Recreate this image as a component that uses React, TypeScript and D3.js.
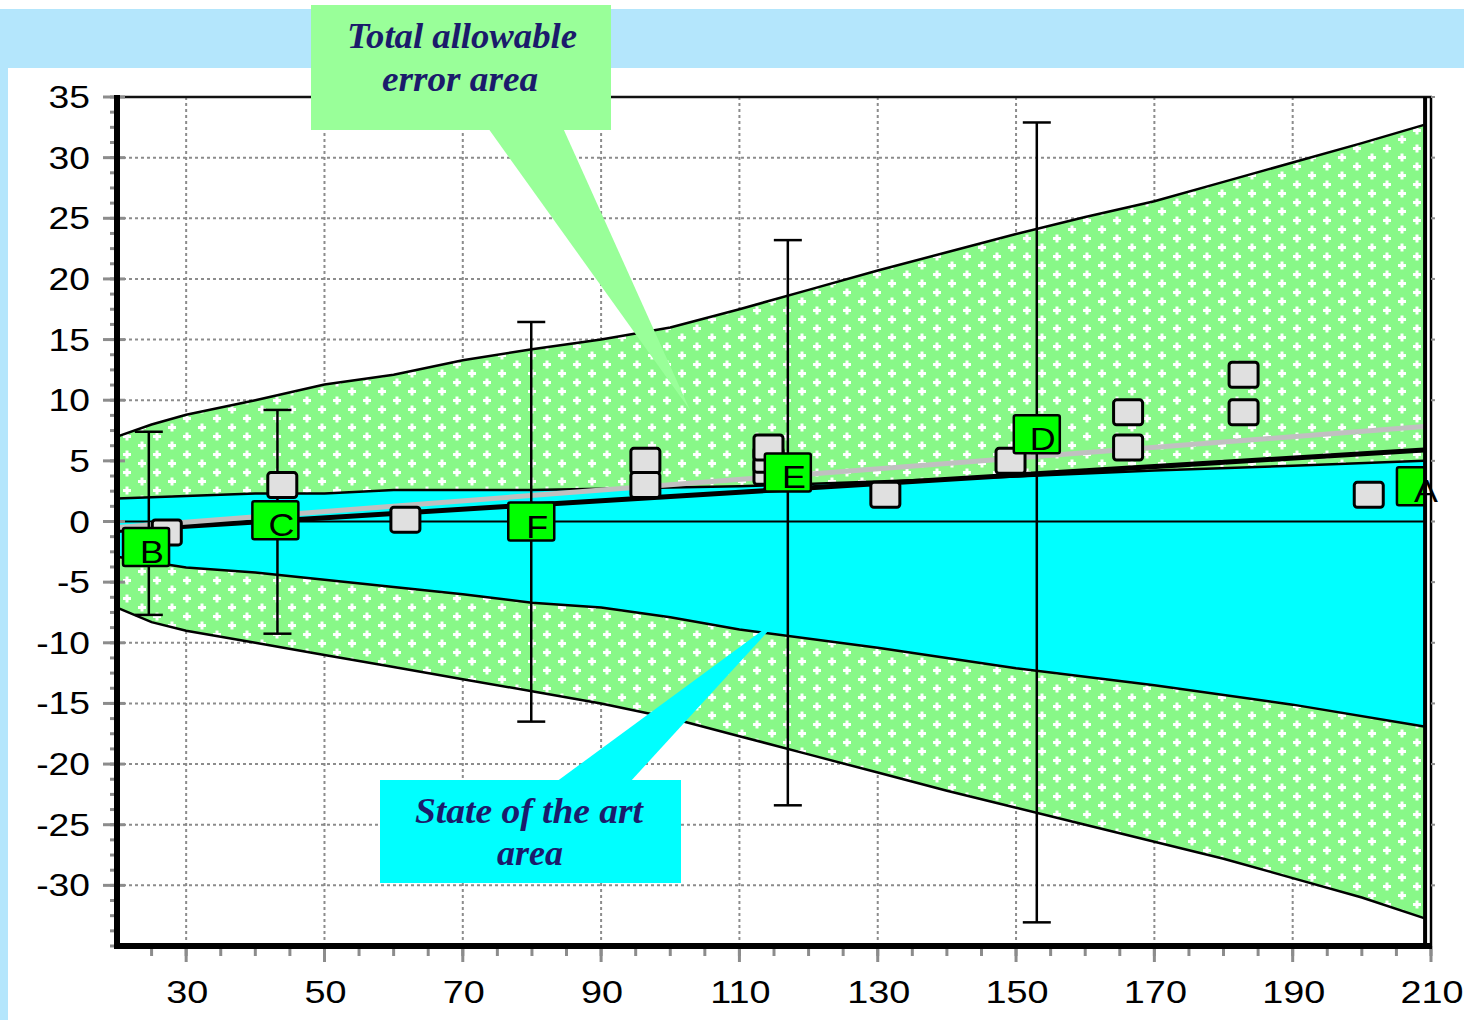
import React from 'react';
import * as d3 from 'd3';

// ---- data -------------------------------------------------------------
// Total allowable error band (upper / lower limits)
const teaX = [20, 25, 30, 40, 50, 60, 70, 80, 90, 100, 110, 120, 130, 140, 150, 160, 170, 180, 190, 200, 209];
const teaUpper = [7.0, 8.0, 8.8, 10.0, 11.3, 12.1, 13.3, 14.2, 15.0, 16.0, 17.5, 19.1, 20.7, 22.2, 23.7, 25.1, 26.4, 28.0, 29.6, 31.2, 32.7];
const teaLower = [-7.1, -8.3, -9.0, -10.0, -11.0, -12.0, -13.0, -14.0, -15.0, -16.2, -17.7, -19.2, -20.7, -22.2, -23.6, -25.0, -26.4, -27.8, -29.4, -31.0, -32.7];

// State of the art band
const sotaX = [20, 30, 40, 50, 60, 70, 80, 90, 100, 110, 130, 150, 170, 190, 209];
const sotaUpper = [1.9, 2.1, 2.3, 2.3, 2.6, 2.6, 2.6, 2.7, 2.8, 2.9, 3.3, 3.7, 4.2, 4.6, 5.0];
const sotaLower = [-2.9, -3.8, -4.2, -4.8, -5.4, -6.0, -6.7, -7.1, -7.9, -8.9, -10.4, -12.1, -13.5, -15.1, -16.9];

// Regression lines
const fitX = [20, 209];
const fitBlack = [-0.75, 5.9];
const fitGray = [-0.5, 7.83];

// Individual results
const pointX = [27.2, 43.9, 61.7, 96.4, 96.4, 114.2, 114.2, 114.2, 131.1, 149.2, 166.2, 166.2, 182.9, 182.9, 201.0];
const pointY = [-0.9, 3.0, 0.15, 5.0, 3.0, 4.1, 5.1, 6.1, 2.2, 5.0, 9.0, 6.1, 12.1, 9.0, 2.2];

// Labelled groups
const groupNames = ['B', 'C', 'F', 'E', 'D', 'A'];
const groupX = [24.2, 42.9, 79.9, 117.0, 153.0, 208.4];
const groupY = [-2.1, 0.1, 0.0, 4.05, 7.2, 2.9];

// Error bars
const barX = [24.6, 43.2, 79.9, 117.0, 153.0];
const barLow = [-7.7, -9.25, -16.5, -23.4, -33.05];
const barHigh = [7.4, 9.2, 16.45, 23.2, 32.9];

// Axis ticks
const xTicks = [30, 50, 70, 90, 110, 130, 150, 170, 190, 210];
const yTicks = [35, 30, 25, 20, 15, 10, 5, 0, -5, -10, -15, -20, -25, -30];

// ---- layout -------------------------------------------------------------
const W = 1464;
const H = 1020;
const PL = 117, PR = 1431, PT = 97, PB = 946;

const x = d3.scaleLinear().domain([20, 210]).range([PL, PR]);
const y = d3.scaleLinear().domain([-35, 35]).range([PB, PT]);
const dataRight = x(209);

const navy = '#1b1b6b';
const sans = '"Liberation Sans", Arial, sans-serif';
const serif = '"Liberation Serif", "Times New Roman", serif';

// Wide sans label: drawn at (tx, ty) and stretched horizontally
function WideText(props: { tx: number; ty: number; anchor: string; sx: number; size: number; children: React.ReactNode }) {
  return (
    <text
      transform={`translate(${props.tx},${props.ty}) scale(${props.sx},1)`}
      textAnchor={props.anchor}
      fontSize={props.size}
      fill="#000"
    >
      {props.children}
    </text>
  );
}

export default function App() {
  const band = (xs: number[], up: number[], lo: number[]) =>
    d3
      .area<number>()
      .x((_, i) => x(xs[i]))
      .y0((_, i) => y(lo[i]))
      .y1((_, i) => y(up[i]))(xs);
  const line = (xs: number[], ys: number[]) =>
    d3
      .line<number>()
      .x((_, i) => x(xs[i]))
      .y((_, i) => y(ys[i]))(xs) as string;

  const minorY = d3.range(-35, 35.01, 1.25);
  const minorX = d3.range(25, 210.01, 5);
  const gridX = xTicks.filter((v) => v < 210);
  const gridY = yTicks.filter((v) => v < 35 && v > -35);

  return (
    <svg
      width={W}
      height={H}
      style={{ position: 'absolute', left: 0, top: 0, background: '#fff' }}
      fontFamily={sans}
    >
      <defs>
        <pattern id="plusFill" width={30} height={18} patternUnits="userSpaceOnUse">
          <rect width={30} height={18} fill="#88f888" />
          <g fill="#fff">
            <rect x={3} y={3} width={8} height={3} />
            <rect x={5.5} y={0.5} width={3} height={8} />
            <rect x={18} y={12} width={8} height={3} />
            <rect x={20.5} y={9.5} width={3} height={8} />
          </g>
        </pattern>
        <clipPath id="plotClip">
          <rect x={PL} y={PT} width={dataRight + 2 - PL} height={PB - PT} />
        </clipPath>
      </defs>

      {/* frame background */}
      <rect x={0} y={9} width={W} height={59} fill="#b4e6fc" />
      <rect x={0} y={9} width={8} height={H - 9} fill="#b4e6fc" />

      {/* dotted grid */}
      <g stroke="#8c8c8c" strokeWidth={2} strokeDasharray="3,3">
        {gridY.map((v) => (
          <line key={'gy' + v} x1={PL} x2={dataRight} y1={y(v)} y2={y(v)} />
        ))}
        {gridX.map((v) => (
          <line key={'gx' + v} x1={x(v)} x2={x(v)} y1={PT} y2={PB} />
        ))}
      </g>

      {/* total allowable error band */}
      <path d={band(teaX, teaUpper, teaLower) as string} fill="url(#plusFill)" />
      <path d={line(teaX, teaUpper)} fill="none" stroke="#000" strokeWidth={2.5} />
      <path d={line(teaX, teaLower)} fill="none" stroke="#000" strokeWidth={2.5} />

      {/* state of the art band */}
      <path d={band(sotaX, sotaUpper, sotaLower) as string} fill="#00ffff" />
      <path d={line(sotaX, sotaUpper)} fill="none" stroke="#000" strokeWidth={2.5} />
      <path d={line(sotaX, sotaLower)} fill="none" stroke="#000" strokeWidth={2.5} />

      {/* zero line */}
      <line x1={PL} x2={dataRight} y1={y(0)} y2={y(0)} stroke="#000" strokeWidth={2} />

      {/* regression lines */}
      <path d={line(fitX, fitBlack)} fill="none" stroke="#000" strokeWidth={5} />
      <path d={line(fitX, fitGray)} fill="none" stroke="#c0c0c0" strokeWidth={5} />

      {/* error bars */}
      <g stroke="#000" strokeWidth={2.5}>
        {barX.map((bx, i) => (
          <g key={'eb' + i}>
            <line x1={x(bx)} x2={x(bx)} y1={y(barHigh[i])} y2={y(barLow[i])} />
            <line x1={x(bx) - 14} x2={x(bx) + 14} y1={y(barHigh[i])} y2={y(barHigh[i])} />
            <line x1={x(bx) - 14} x2={x(bx) + 14} y1={y(barLow[i])} y2={y(barLow[i])} />
          </g>
        ))}
      </g>

      {/* markers */}
      <g clipPath="url(#plotClip)">
        {pointX.map((px, i) => (
          <rect
            key={'p' + i}
            x={x(px) - 14.5}
            y={y(pointY[i]) - 12.5}
            width={29}
            height={25}
            rx={3}
            fill="#e0e0e0"
            stroke="#000"
            strokeWidth={3}
          />
        ))}
        {groupX.map((gx, i) => (
          <rect
            key={'g' + i}
            x={x(gx) - 23}
            y={y(groupY[i]) - 19}
            width={46}
            height={38}
            rx={2}
            fill="#00ff00"
            stroke="#000"
            strokeWidth={2.5}
          />
        ))}
      </g>
      {groupX.map((gx, i) => (
        <WideText key={'gt' + i} tx={x(gx) + 6} ty={y(groupY[i]) + 16} anchor="middle" sx={1.12} size={32}>
          {groupNames[i]}
        </WideText>
      ))}

      {/* plot frame */}
      <line x1={PL} x2={PR + 1} y1={PT} y2={PT} stroke="#111" strokeWidth={2.5} />
      <line x1={dataRight + 1} x2={dataRight + 1} y1={PT} y2={PB} stroke="#000" strokeWidth={4} />
      <line x1={PR} x2={PR} y1={PT} y2={PB} stroke="#000" strokeWidth={2.5} />

      {/* y axis */}
      <g stroke="#8c8c8c" strokeWidth={3}>
        {minorY.map((v) => (
          <line key={'my' + v} x1={PL - 7} x2={PL} y1={y(v)} y2={y(v)} />
        ))}
        {yTicks.map((v) => (
          <line key={'ty' + v} x1={PL - 14} x2={PL + 8} y1={y(v)} y2={y(v)} />
        ))}
        {yTicks.map((v) => (
          <line key={'ry' + v} x1={PR} x2={PR + 4} y1={y(v)} y2={y(v)} strokeWidth={2} />
        ))}
      </g>
      <line x1={PL} x2={PL} y1={PT - 2} y2={PB + 3} stroke="#000" strokeWidth={6} />
      {yTicks.map((v) => (
        <WideText key={'ly' + v} tx={90} ty={y(v) + 11} anchor="end" sx={1.2} size={31}>
          {v < 0 ? '-' + Math.abs(v) : String(v)}
        </WideText>
      ))}

      {/* x axis */}
      <g stroke="#8c8c8c" strokeWidth={3}>
        {minorX.map((v) => (
          <line key={'mx' + v} x1={x(v)} x2={x(v)} y1={PB} y2={PB + 10} />
        ))}
        {xTicks.map((v) => (
          <line key={'tx' + v} x1={x(v)} x2={x(v)} y1={PB} y2={PB + 16} />
        ))}
      </g>
      <line x1={PL - 3} x2={PR + 1} y1={PB} y2={PB} stroke="#000" strokeWidth={6} />
      {xTicks.map((v) => (
        <WideText key={'lx' + v} tx={x(v) + 1} ty={1003} anchor="middle" sx={1.22} size={31}>
          {v}
        </WideText>
      ))}

      {/* callout: total allowable error */}
      <polygon points="488,128 563,128 690,410" fill="#99ff99" />
      <rect x={311} y={5} width={300} height={125} fill="#99ff99" />
      <g fontFamily={serif} fontWeight="bold" fontStyle="italic" fontSize={36} fill={navy} textAnchor="middle">
        <text x={462} y={48} textLength={230} lengthAdjust="spacingAndGlyphs">Total allowable</text>
        <text x={460} y={91} textLength={156} lengthAdjust="spacingAndGlyphs">error area</text>
      </g>

      {/* callout: state of the art */}
      <polygon points="556,782 630,782 782,616" fill="#00ffff" />
      <rect x={380} y={780} width={301} height={103} fill="#00ffff" />
      <g fontFamily={serif} fontWeight="bold" fontStyle="italic" fontSize={36} fill={navy} textAnchor="middle">
        <text x={529} y={823} textLength={228} lengthAdjust="spacingAndGlyphs">State of the art</text>
        <text x={530} y={865} textLength={66} lengthAdjust="spacingAndGlyphs">area</text>
      </g>
    </svg>
  );
}
